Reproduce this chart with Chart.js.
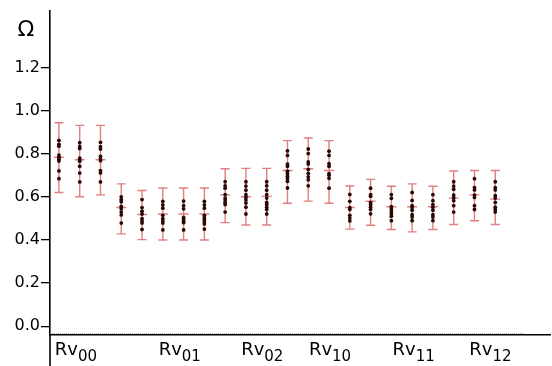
<!DOCTYPE html>
<html>
<head>
<meta charset="utf-8">
<script src="https://cdn.jsdelivr.net/npm/chart.js@4/dist/chart.umd.min.js"></script>
<style>
html,body{margin:0;padding:0;background:#fff;}
#wrap{width:552px;height:366px;position:relative;}
</style>
</head>
<body>
<div id="wrap"><canvas id="c" width="552" height="366"></canvas></div>
<script>
// ---- data ----
const columns = [0,1,2,3,4,5,6,7,8,9,10,11,12,13,14,15,16,17,18,19,20,21];
const means = [0.785,0.773,0.773,0.551,0.519,0.521,0.521,0.521,0.610,0.601,0.603,0.723,0.731,0.723,0.551,0.580,0.555,0.555,0.555,0.595,0.610,0.590];
const lows  = [0.621,0.601,0.610,0.429,0.402,0.400,0.400,0.400,0.481,0.470,0.470,0.571,0.581,0.571,0.451,0.469,0.449,0.438,0.449,0.472,0.490,0.472];
const highs = [0.945,0.933,0.933,0.661,0.630,0.642,0.642,0.642,0.731,0.733,0.733,0.862,0.874,0.862,0.651,0.682,0.650,0.661,0.650,0.721,0.723,0.723];
const dotValues = [
  [0.863,0.845,0.836,0.795,0.785,0.776,0.767,0.721,0.685],
  [0.852,0.834,0.825,0.781,0.773,0.766,0.743,0.711,0.670],
  [0.854,0.834,0.823,0.789,0.778,0.769,0.723,0.712,0.670],
  [0.601,0.588,0.578,0.556,0.545,0.530,0.517,0.479],
  [0.588,0.551,0.534,0.521,0.500,0.489,0.479,0.449],
  [0.580,0.563,0.548,0.515,0.500,0.489,0.479,0.447],
  [0.581,0.560,0.545,0.505,0.495,0.487,0.481,0.447],
  [0.580,0.563,0.548,0.515,0.504,0.495,0.484,0.475,0.451],
  [0.671,0.652,0.641,0.611,0.595,0.586,0.575,0.565,0.530],
  [0.671,0.651,0.632,0.611,0.598,0.586,0.572,0.553,0.521],
  [0.671,0.652,0.632,0.611,0.595,0.575,0.565,0.553,0.542,0.521],
  [0.814,0.793,0.753,0.743,0.720,0.708,0.697,0.686,0.673,0.642],
  [0.823,0.802,0.763,0.753,0.728,0.710,0.694,0.680,0.652],
  [0.813,0.793,0.755,0.743,0.709,0.701,0.687,0.641],
  [0.612,0.580,0.551,0.542,0.515,0.502,0.489],
  [0.641,0.611,0.603,0.575,0.565,0.553,0.542,0.522],
  [0.611,0.594,0.555,0.545,0.533,0.522,0.511,0.490],
  [0.621,0.584,0.560,0.550,0.538,0.518,0.507,0.490],
  [0.611,0.583,0.565,0.553,0.539,0.518,0.507,0.490],
  [0.671,0.651,0.636,0.609,0.597,0.583,0.560,0.530],
  [0.685,0.644,0.633,0.609,0.598,0.560,0.542],
  [0.671,0.644,0.633,0.606,0.595,0.575,0.553,0.542,0.530]
];
const yTickValues = [0.0,0.2,0.4,0.6,0.8,1.0,1.2];
const xLabelMain = 'Rv';
const xLabelSubs = ['00','01','02','10','11','12'];
const xLabelPositions = [-0.2, 4.8, 8.77, 12.03, 16.06, 19.75];
const yAxisLabel = 'Ω';

// ---- build points ----
const points = [];
columns.forEach((c, i) => dotValues[i].forEach(v => points.push({x: c, y: v})));

const errorBarPlugin = {
  id: 'errorBars',
  beforeDatasetsDraw(chart) {
    const ctx = chart.ctx, xs = chart.scales.x, ys = chart.scales.y;
    ctx.save();
    ctx.strokeStyle = 'rgba(215,95,95,0.8)';
    ctx.lineWidth = 1.4;
    columns.forEach((c, i) => {
      const x = xs.getPixelForValue(c);
      const yl = ys.getPixelForValue(lows[i]);
      const yh = ys.getPixelForValue(highs[i]);
      const ym = ys.getPixelForValue(means[i]);
      ctx.beginPath();
      ctx.moveTo(x, yl); ctx.lineTo(x, yh);
      ctx.moveTo(x - 4.5, yl); ctx.lineTo(x + 4.5, yl);
      ctx.moveTo(x - 4.5, yh); ctx.lineTo(x + 4.5, yh);
      ctx.moveTo(x - 5, ym); ctx.lineTo(x + 5, ym);
      ctx.stroke();
    });
    ctx.restore();
  }
};

const decorPlugin = {
  id: 'decor',
  afterDraw(chart) {
    const ctx = chart.ctx, xs = chart.scales.x, ys = chart.scales.y;
    const area = chart.chartArea;
    ctx.save();
    // faint dotted line just above x axis
    ctx.strokeStyle = 'rgba(120,120,120,0.6)';
    ctx.lineWidth = 1;
    ctx.setLineDash([1, 1]);
    ctx.beginPath();
    ctx.moveTo(area.left, area.bottom - 1.5);
    ctx.lineTo(xs.getPixelForValue(22.35), area.bottom - 1.5);
    ctx.stroke();
    ctx.setLineDash([]);
    // y axis continues below x axis
    ctx.strokeStyle = '#000';
    ctx.lineWidth = 1.6;
    ctx.beginPath();
    ctx.moveTo(area.left, area.bottom);
    ctx.lineTo(area.left, chart.height);
    ctx.stroke();
    // x labels with subscripts
    ctx.fillStyle = '#000';
    ctx.textBaseline = 'alphabetic';
    ctx.textAlign = 'left';
    xLabelSubs.forEach((s, i) => {
      const x = xs.getPixelForValue(xLabelPositions[i]);
      const y = area.bottom + 20;
      ctx.font = '18px "DejaVu Sans"';
      ctx.fillText(xLabelMain, x, y);
      const w = ctx.measureText(xLabelMain).width;
      ctx.font = '15px "DejaVu Sans"';
      ctx.fillText(s, x + w, y + 6);
    });
    // axis symbol
    ctx.font = '22px "DejaVu Sans"';
    ctx.textAlign = 'center';
    ctx.textBaseline = 'middle';
    ctx.fillText(yAxisLabel, area.left - 24, ys.getPixelForValue(1.375));
    ctx.restore();
  }
};

new Chart(document.getElementById('c'), {
  type: 'scatter',
  data: {
    datasets: [{
      data: points,
      backgroundColor: '#2a0808',
      borderColor: '#2a0808',
      pointRadius: 1.9,
      pointHoverRadius: 1.9,
      borderWidth: 0
    }]
  },
  options: {
    responsive: false,
    animation: false,
    events: [],
    layout: { padding: { top: 5, right: 0, left: 0, bottom: 0 } },
    plugins: { legend: { display: false }, tooltip: { enabled: false } },
    scales: {
      x: {
        type: 'linear',
        min: -0.43,
        max: 23.64,
        grid: { display: false, drawTicks: false },
        border: { display: true, color: '#000', width: 1.6 },
        ticks: { display: false },
        afterFit(scale) { scale.height = 31; }
      },
      y: {
        type: 'linear',
        min: -0.041,
        max: 1.466,
        afterBuildTicks(scale) { scale.ticks = yTickValues.map(v => ({ value: v })); },
        grid: { display: true, drawOnChartArea: false, drawTicks: true, tickLength: 9, color: '#000', lineWidth: 1.3 },
        border: { display: true, color: '#000', width: 1.6 },
        ticks: {
          color: '#000',
          padding: 1,
          font: { family: 'DejaVu Sans', size: 16 },
          callback: v => Number(v).toFixed(1)
        },
        afterFit(scale) { scale.width = 50; }
      }
    }
  },
  plugins: [errorBarPlugin, decorPlugin]
});
</script>
</body>
</html>
